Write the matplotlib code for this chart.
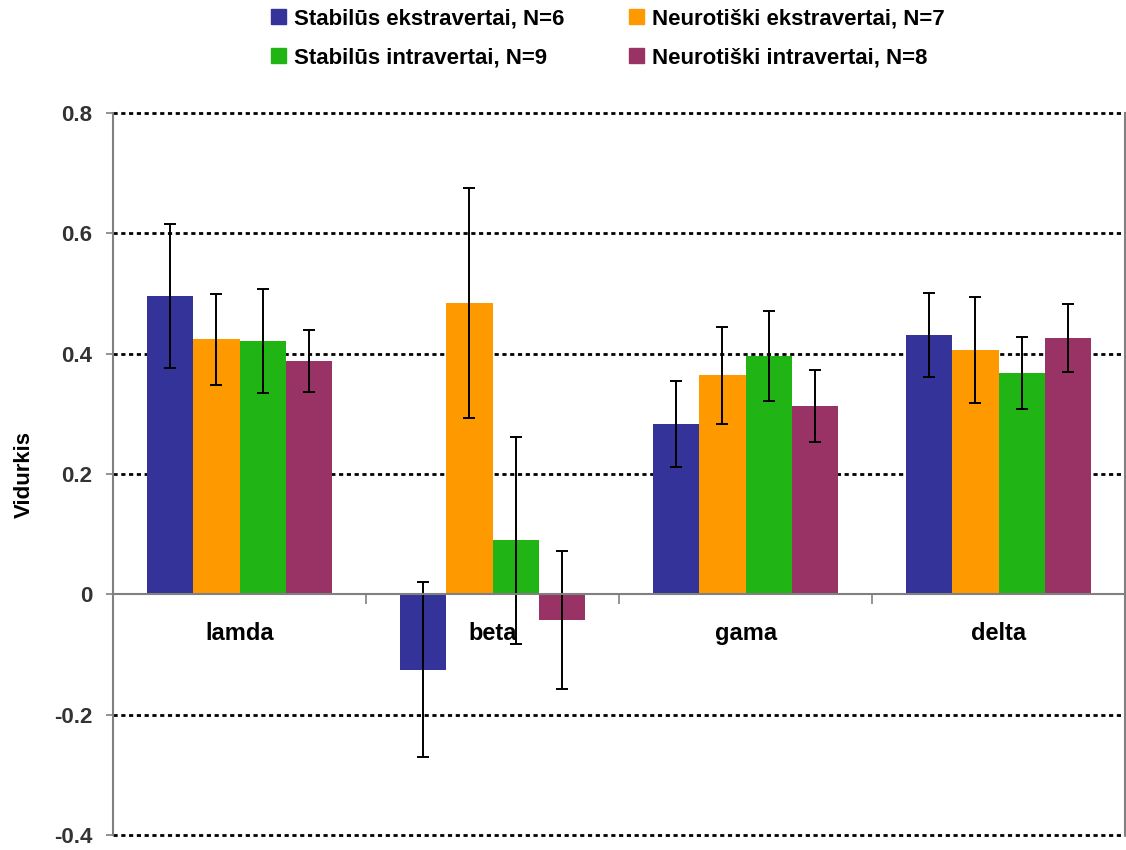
import numpy as np
import matplotlib
matplotlib.use("Agg")
import matplotlib.pyplot as plt
from matplotlib.patches import Patch

plt.rcParams["font.family"] = ["Liberation Sans", "DejaVu Sans"]
plt.rcParams["font.weight"] = "bold"

categories = ["lamda", "beta", "gama", "delta"]
groups = [
    "Stabilūs ekstravertai, N=6",
    "Neurotiški ekstravertai, N=7",
    "Stabilūs intravertai, N=9",
    "Neurotiški intravertai, N=8",
]
colors = ["#333399", "#FF9900", "#20B414", "#993366"]

# group means for each wave band
means_se = [0.496, -0.125, 0.283, 0.431]
means_ne = [0.424, 0.484, 0.364, 0.406]
means_si = [0.421, 0.090, 0.396, 0.368]
means_ni = [0.388, -0.043, 0.313, 0.426]

# error bar half-lengths
err_se = [0.120, 0.146, 0.071, 0.070]
err_ne = [0.076, 0.191, 0.081, 0.088]
err_si = [0.086, 0.172, 0.075, 0.060]
err_ni = [0.051, 0.115, 0.060, 0.057]

means = [means_se, means_ne, means_si, means_ni]
errs = [err_se, err_ne, err_si, err_ni]

yticks = [-0.4, -0.2, 0.0, 0.2, 0.4, 0.6, 0.8]
ytick_labels = ["-0.4", "-0.2", "0", "0.2", "0.4", "0.6", "0.8"]

fig = plt.figure(figsize=(11.26, 8.5), dpi=100)
ax = fig.add_axes([0.1004, 0.0176, 0.8988, 0.8494])

x = np.arange(len(categories))
w = 0.183
for i, (m, e, c) in enumerate(zip(means, errs, colors)):
    ax.bar(x + (i - 1.5) * w, m, width=w, color=c, zorder=2,
           yerr=e, error_kw=dict(ecolor="black", elinewidth=1.4,
                                 capsize=4, capthick=1.4, zorder=3))

ax.set_xlim(-0.5, 3.5)
ax.set_ylim(-0.4, 0.8)

# dotted horizontal gridlines
for yv in yticks:
    if yv != 0:
        ax.axhline(yv, color="black", lw=2.0, ls=(0, (1.5, 1.3)),
                   zorder=1, clip_on=False)

ax.spines["top"].set_visible(False)
ax.spines["bottom"].set_position(("data", 0))
for s in ["left", "right", "bottom"]:
    ax.spines[s].set_color("#808080")
    ax.spines[s].set_linewidth(1.5)
ax.spines["bottom"].set_zorder(4)

ax.set_yticks(yticks)
ax.set_yticklabels(ytick_labels, fontsize=16, fontweight="bold", color="#333333")
ax.tick_params(axis="y", direction="out", length=5, color="#808080",
               width=1.2, pad=10)

ax.set_xticks(x)
ax.set_xticklabels(categories, fontsize=17, fontweight="bold")
ax.set_xticks(np.arange(-0.5, 4.0, 1.0), minor=True)
ax.tick_params(axis="x", which="major", length=0, pad=20)
ax.tick_params(axis="x", which="minor", direction="out", length=7,
               color="#808080", width=1.2)

ax.set_ylabel("Vidurkis", fontsize=16, fontweight="bold")
ax.yaxis.set_label_coords(-0.077, 0.5)

handles = [Patch(color=c) for c in colors]
order = [0, 2, 1, 3]
fig.legend([handles[k] for k in order], [groups[k] for k in order],
           loc="upper left", bbox_to_anchor=(0.223, 1.014), ncol=2,
           frameon=False, handlelength=0.68, handleheight=0.68,
           handletextpad=0.36, columnspacing=2.9, labelspacing=0.83,
           prop=dict(weight="bold", size=16))

fig.savefig("out.png", dpi=100)
